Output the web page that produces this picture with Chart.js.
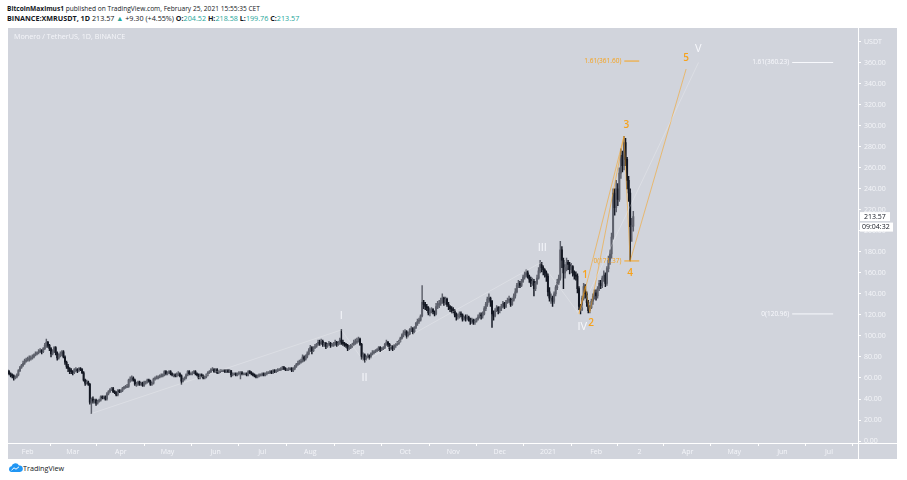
<!DOCTYPE html>
<html>
<head>
<meta charset="utf-8">
<title>XMRUSDT 1D</title>
<script src="https://cdn.jsdelivr.net/npm/chart.js@4.4.1/dist/chart.umd.min.js"></script>
<style>
  body { margin: 0; width: 907px; height: 480px; background: #fff; position: relative; overflow: hidden; font-family: "Open Sans", sans-serif; }
  .txt { position: absolute; white-space: nowrap; font-size: 7.2px; color: #131722; }
  .up { color: #26a69a; }
  #panel { position: absolute; left: 8px; top: 28px; width: 889px; height: 431px; background: #d1d4dc; }
  #symbolTitle { position: absolute; left: 6px; top: 3px; font-size: 7.2px; color: #f4f5f9; white-space: nowrap; }
</style>
</head>
<body>
<div class="txt" style="left:7px; top:4px; font-size:6.6px;"><b>BitcoinMaximus1</b> published on TradingView.com, February 25, 2021 15:55:35 CET</div>
<div class="txt" style="left:7px; top:13px;"><b>BINANCE:XMRUSDT, 1D</b> 213.57 <span class="up">▲</span> +9.30 (+4.55%) <b>O:</b><span class="up">204.52</span> <b>H:</b><span class="up">218.58</span> <b>L:</b><span class="up">199.76</span> <b>C:</b><span class="up">213.57</span></div>
<div id="panel">
  <canvas id="grafica" width="889" height="431"></canvas>
  <div id="symbolTitle">Monero / TetherUS, 1D, BINANCE</div>
</div>
<svg style="position:absolute; left:8px; top:463px;" width="15" height="9" viewBox="0 0 15 9">
  <path d="M3 9 A3 3 0 0 1 3.5 3.2 A4 4 0 0 1 11 2.5 A3.2 3.2 0 0 1 12 9 Z" fill="#2196f3"/>
  <path d="M3.5 7.2 L6 4.8 L8 6.2 L11 3.8" stroke="#fff" stroke-width="1" fill="none"/>
</svg>
<div class="txt" style="left:23px; top:463px;">TradingView</div>

<script>
// dias contados desde el 1 ene 2020; primera vela = 19 ene 2020
const startDay = 18;
const firstOpen = 67;

// cierres diarios, ene 2020 -> 25 feb 2021
const closes = [
  66,64,63,62,60,61,63,67,70,72,74,76,77,
  78,79,79,80,82,83,84,85,86,85,88,91,94,91,88,83,85,89,84,79,82,83,85,80,75,71,69,67,66,
  65,68,68,67,69,68,65,58,55,56,54,37,40,38,39,36,38,39,42,41,42,40,45,47,49,50,47,46,44,48,47,
  48,50,51,52,52,58,59,60,58,54,54,56,54,55,53,56,56,58,57,54,55,59,60,60,61,62,62,63,66,64,
  65,66,64,63,63,62,64,64,62,57,59,60,63,66,64,64,65,66,64,63,60,63,62,60,61,63,65,66,68,68,66,
  68,65,66,67,67,67,66,67,66,67,63,64,64,63,64,65,65,64,64,64,63,66,65,64,63,62,61,62,63,63,
  64,63,64,65,65,66,65,67,66,67,68,68,69,70,69,68,68,69,69,67,69,71,73,74,76,76,80,78,80,83,86,
  89,86,89,90,92,94,93,95,92,93,90,92,93,91,92,92,94,92,93,96,94,93,92,91,88,89,90,92,94,95,95,
  97,92,80,82,78,80,81,80,83,84,85,86,87,89,87,88,89,92,94,92,88,90,88,91,92,93,95,98,101,103,
  104,100,102,106,107,104,108,112,114,115,119,132,130,128,127,122,124,125,123,121,128,130,131,134,136,132,135,130,128,126,125,
  124,120,118,119,121,120,116,118,117,118,116,114,115,113,114,116,118,120,119,121,126,130,135,136,133,121,119,124,127,124,
  126,128,131,128,132,134,135,130,134,138,142,148,150,148,152,156,158,160,157,154,150,152,145,150,155,162,168,165,163,160,157,
  142,136,136,133,140,146,151,155,182,172,160,165,170,168,163,166,160,158,157,145,128,125,136,147,140,132,124,127,133,138,141,
  138,145,150,148,155,158,150,164,172,178,194,236,222,240,230,255,272,262,284,268,248,236,204,204.52,213.57
];

const highs = [
  68,67,65,64,63,62,64,68,71,73,76,78,79,
  80,81,81,82,83,85,85,87,88,87,89,93,97,95,92,89,87,90,90,85,83,85,86,86,81,76,73,70,69,
  67,69,70,69,70,70,69,66,59,58,57,55,41,42,40,40,39,40,43,43,43,43,46,48,50,51,51,48,47,49,49,
  49,51,52,53,54,59,61,62,61,59,56,57,57,56,56,57,57,59,59,58,56,60,61,62,62,63,64,64,67,67,
  66,67,67,65,64,64,65,66,65,63,60,61,64,67,67,65,66,67,67,65,64,64,64,63,62,64,66,67,69,70,69,
  69,69,67,68,68,68,68,68,68,68,67,65,65,65,65,66,66,66,65,65,65,67,67,66,65,64,63,63,64,64,
  65,65,65,66,66,67,67,68,68,68,69,69,70,71,71,70,69,70,70,70,70,72,74,76,77,78,82,81,82,85,88,
  91,90,90,92,93,96,96,97,96,94,94,93,95,94,93,94,96,95,95,98,106,96,94,93,92,91,92,93,96,97,98,
  99,98,93,84,83,81,83,82,84,86,86,87,88,90,90,89,90,93,96,95,93,91,91,92,93,95,96,99,102,105,
  106,105,104,107,109,108,109,113,116,117,120,148,134,132,130,128,126,127,126,124,131,133,134,136,140,137,137,136,132,129,128,
  127,125,122,121,123,123,121,119,120,120,119,117,117,116,116,117,120,122,122,123,128,132,137,140,137,134,124,126,129,128,
  128,130,133,132,134,136,138,136,136,140,145,150,153,152,154,158,161,163,162,158,156,155,154,152,158,165,172,170,167,164,162,
  159,146,140,138,142,148,154,158,190,185,174,168,174,172,170,169,167,162,161,159,147,130,138,150,149,142,134,129,135,140,144,
  144,147,153,153,157,162,160,166,176,182,198,240,240,248,245,260,278,276,290,288,270,252,240,212,218.58
];

const lows = [
  64,63,61,60,58,59,60,62,66,69,71,73,75,
  76,76,77,78,79,81,82,83,84,83,84,87,89,89,86,80,82,84,82,77,78,80,81,79,73,69,66,64,64,
  63,64,66,65,66,67,64,57,53,54,53,35,26,36,36,34,35,37,38,40,40,39,39,44,46,48,46,45,43,43,46,
  46,47,49,50,51,51,56,57,57,53,52,53,53,53,52,52,54,55,56,53,53,54,58,59,59,60,61,61,62,63,
  63,64,63,62,61,61,61,62,61,54,56,58,59,62,63,63,63,64,63,62,59,59,61,59,59,60,62,64,65,67,65,
  65,64,64,65,66,66,65,65,65,65,61,62,63,62,62,63,59,63,63,63,62,62,64,63,62,61,60,60,61,62,
  62,62,62,63,64,64,64,64,65,65,66,67,67,68,68,67,67,67,68,66,66,68,70,72,73,74,75,76,77,79,82,
  85,83,85,88,89,91,91,92,90,90,88,89,91,89,90,90,91,90,91,92,92,91,90,89,86,87,88,89,91,92,93,
  94,91,78,77,75,77,79,78,79,82,83,84,85,86,85,86,87,88,91,90,86,87,86,87,89,91,92,94,97,99,
  101,98,99,101,104,102,103,107,110,112,114,118,126,125,124,120,119,122,121,119,120,126,127,129,131,129,130,128,125,123,122,
  122,118,115,116,117,118,114,115,114,115,114,111,112,111,111,113,115,117,116,117,120,124,128,132,128,108,115,118,123,121,
  122,124,127,126,127,131,132,128,129,133,136,141,146,146,147,151,154,156,155,151,147,148,138,143,149,154,160,161,158,156,152,
  138,133,131,128,131,138,144,149,153,165,145,155,162,163,159,160,157,154,153,141,125,120.96,124,134,136,128,122,122,126,130,135,
  134,136,143,145,146,152,147,148,161,168,174,192,215,218,224,228,250,256,258,262,240,228,171.37,190,199.76
];

// eje de tiempo
const monthDays = [31,60,91,121,152,182,213,244,274,305,335,366,397,425,456,486,517,547];
const monthLabels = ['Feb','Mar','Apr','May','Jun','Jul','Aug','Sep','Oct','Nov','Dec','2021','Feb','2','Apr','May','Jun','Jul'];
const priceTicks = [0,20,40,60,80,100,120,140,160,180,200,220,240,260,280,300,320,340,360,380];
const lastPrice = 213.57;
const countdown = '09:04:32';

// conteo de ondas (grado mayor, blanco)
const waveNames = ['I','II','III','IV','V'];
const waveDays = [72, 233, 247.5, 361.6, 386, 463];
const wavePrices = [26.2, 105.7, 75.7, 170, 120.96, 360.2];
const waveLabelDays = [233, 247.9, 362.4, 388.1, 462.8];
const waveLabelPrices = [118.8, 59.8, 184, 108.5, 373];

// sub-ondas (naranja)
const subNames = ['1','2','3','4','5'];
const subDays = [386, 390, 393, 415, 419, 455];
const subPrices = [120.96, 147.5, 122.5, 290, 171.37, 354];
const subLabelDays = [390, 393.9, 416.5, 419, 455];
const subLabelPrices = [158, 112.2, 301, 160, 364.7];

// niveles fibonacci
const fibOrangeLevels = [361.60, 171.37];
const fibOrangeText = ['1.61(361.60)', '0(171.37)'];
const fibOrangeSpan = [415.2, 424.8];
const fibWhiteLevels = [360.23, 120.96];
const fibWhiteText = ['1.61(360.23)', '0(120.96)'];
const fibWhiteSpan = [523.3, 549.7];

const opens = closes.map((c, i) => i === 0 ? firstOpen : closes[i - 1]);
const days = closes.map((c, i) => startDay + i);

const colores = {
  sube: '#5d606b',
  baja: '#131722',
  naranja: '#f7a21b',
  lineaNaranja: 'rgba(247, 162, 27, 0.8)',
  blanco: '#f8f9fd',
  texto: '#f4f5f9'
};

Chart.defaults.font.family = '"Open Sans", sans-serif';
Chart.defaults.font.size = 7;

function velaColor(ctx) {
  const i = ctx.dataIndex;
  return closes[i] >= opens[i] ? colores.sube : colores.baja;
}

function lineaDataset(xs, ys, color, ancho) {
  return {
    type: 'line',
    data: xs.map((d, i) => ({ x: d, y: ys[i] })),
    borderColor: color,
    borderWidth: ancho,
    pointRadius: 0,
    tension: 0,
    fill: false,
    order: 0
  };
}

const fibDatasets = [];
fibOrangeLevels.forEach(v => fibDatasets.push(lineaDataset(fibOrangeSpan, [v, v], colores.naranja, 1)));
fibWhiteLevels.forEach(v => fibDatasets.push(lineaDataset(fibWhiteSpan, [v, v], colores.blanco, 1)));

// textos sobre la grafica
const etiquetas = {
  id: 'etiquetas',
  afterDatasetsDraw(chart) {
    const { ctx, scales: { x, y } } = chart;
    ctx.save();
    ctx.textAlign = 'center';
    ctx.textBaseline = 'middle';
    ctx.font = '11px "Open Sans"';
    ctx.fillStyle = colores.blanco;
    waveNames.forEach((t, i) => ctx.fillText(t, x.getPixelForValue(waveLabelDays[i]), y.getPixelForValue(waveLabelPrices[i])));
    ctx.font = '600 10px "Open Sans"';
    ctx.fillStyle = colores.naranja;
    subNames.forEach((t, i) => ctx.fillText(t, x.getPixelForValue(subLabelDays[i]), y.getPixelForValue(subLabelPrices[i])));

    ctx.font = '6.5px "Open Sans"';
    ctx.textAlign = 'right';
    fibOrangeLevels.forEach((v, i) => ctx.fillText(fibOrangeText[i], x.getPixelForValue(fibOrangeSpan[0]) - 3, y.getPixelForValue(v)));
    ctx.fillStyle = colores.blanco;
    fibWhiteLevels.forEach((v, i) => ctx.fillText(fibWhiteText[i], x.getPixelForValue(fibWhiteSpan[0]) - 3, y.getPixelForValue(v)));
    ctx.restore();
  },
  afterDraw(chart) {
    const { ctx, chartArea, scales: { y } } = chart;
    ctx.save();
    // bordes de los ejes a todo lo largo
    ctx.strokeStyle = '#ffffff';
    ctx.lineWidth = 1;
    ctx.beginPath();
    ctx.moveTo(0, Math.round(chartArea.bottom) + 0.5);
    ctx.lineTo(chart.width, Math.round(chartArea.bottom) + 0.5);
    ctx.moveTo(Math.round(chartArea.right) + 0.5, 0);
    ctx.lineTo(Math.round(chartArea.right) + 0.5, chart.height);
    ctx.stroke();
    // precio actual y cuenta regresiva
    const py = y.getPixelForValue(lastPrice);
    const bx = chartArea.right + 2;
    ctx.fillStyle = '#ffffff';
    ctx.fillRect(bx, py - 4.5, 30, 9);
    ctx.fillRect(bx, py + 6, 33, 9);
    ctx.fillStyle = '#131722';
    ctx.font = '7px "Open Sans"';
    ctx.textAlign = 'left';
    ctx.textBaseline = 'middle';
    ctx.fillText(lastPrice.toFixed(2), bx + 4, py);
    ctx.fillText(countdown, bx + 2, py + 10.5);
    ctx.restore();
  }
};

const ctxGrafica = document.getElementById('grafica').getContext('2d');

new Chart(ctxGrafica, {
  type: 'bar',
  data: {
    datasets: [
      lineaDataset(waveDays, wavePrices, 'rgba(255,255,255,0.3)', 0.8),
      lineaDataset(subDays, subPrices, colores.lineaNaranja, 0.7),
      lineaDataset([subDays[0], subDays[3]], [subPrices[0], subPrices[3]], colores.lineaNaranja, 0.7),
      ...fibDatasets,
      {
        // cuerpos
        data: days.map((d, i) => ({ x: d, y: [opens[i], closes[i]] })),
        backgroundColor: velaColor,
        borderWidth: 0,
        barThickness: 1.3,
        grouped: false,
        minBarLength: 1,
        order: 1
      },
      {
        // mechas
        data: days.map((d, i) => ({ x: d, y: [lows[i], highs[i]] })),
        backgroundColor: velaColor,
        borderWidth: 0,
        barThickness: 0.8,
        grouped: false,
        order: 2
      }
    ]
  },
  options: {
    responsive: false,
    animation: false,
    events: [],
    layout: { padding: 0 },
    plugins: {
      legend: { display: false },
      tooltip: { enabled: false }
    },
    scales: {
      x: {
        type: 'linear',
        min: 18.3,
        max: 565.7,
        offset: false,
        afterBuildTicks: s => { s.ticks = monthDays.map(v => ({ value: v })); },
        afterFit: s => { s.height = 16; },
        ticks: {
          callback: (v, i) => monthLabels[i],
          autoSkip: false,
          maxRotation: 0,
          color: colores.texto,
          padding: 2
        },
        grid: { drawOnChartArea: false, tickLength: 3, color: '#ffffff' },
        border: { color: '#ffffff' }
      },
      y: {
        position: 'right',
        min: -1.87,
        max: 386.2,
        afterBuildTicks: s => { s.ticks = priceTicks.map(v => ({ value: v })); },
        afterFit: s => { s.width = 39; },
        ticks: {
          callback: v => v === 380 ? 'USDT' : v.toFixed(2),
          color: colores.texto,
          padding: 3
        },
        grid: { drawOnChartArea: false, tickLength: 3, color: '#ffffff' },
        border: { color: '#ffffff' }
      }
    }
  },
  plugins: [etiquetas]
});
</script>
</body>
</html>
